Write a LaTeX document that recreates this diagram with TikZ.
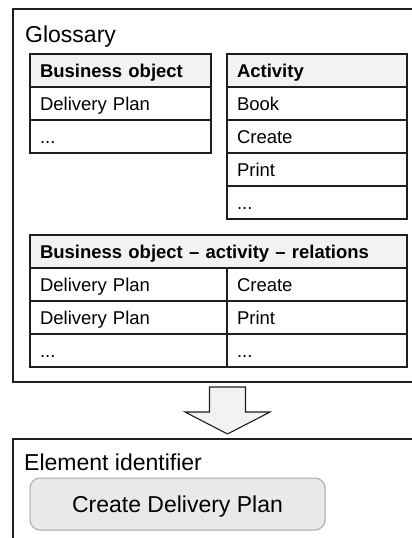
\documentclass[tikz,border=0pt]{standalone}
\usepackage{fontspec}
\setmainfont{Liberation Sans}
\usetikzlibrary{positioning,calc}

\definecolor{linecol}{RGB}{30,30,30}
\definecolor{headfill}{RGB}{242,242,242}
\definecolor{btnfill}{RGB}{233,233,233}
\definecolor{btnline}{RGB}{168,168,168}

\newcommand\tabfont{\fontsize{18.5}{22}\selectfont}
\newcommand\titlefont{\fontsize{23}{27}\selectfont}

\tikzset{
	cell/.style={draw=linecol, line width=1.1pt, outer sep=0pt, inner xsep=10pt, inner ysep=0pt,
		minimum height=33pt, text width=#1, text height=14pt, text depth=0pt, align=left, font=\tabfont},
	head/.style={cell=#1, fill=headfill, font=\tabfont\bfseries},
	frame/.style={draw=linecol, line width=1.1pt, outer sep=0pt, inner sep=0pt, anchor=north west},
	title/.style={inner sep=0pt, anchor=base west, font=\titlefont},
	blockarrow/.style={draw=linecol, line width=1.1pt, fill=headfill, line join=miter},
	action/.style={draw=btnline, line width=1pt, fill=btnfill, rounded corners=10pt, minimum width=295pt,
		minimum height=52pt, text height=16.5pt, text depth=0pt, font=\titlefont}
}

\begin{document}
\begin{tikzpicture}[x=1pt, y=-1pt]
	\useasboundingbox (0,0) rectangle (412,538);
	\clip (0,0) rectangle (412,538);
	\fill[white] (0,0) rectangle (412,538);

	\node[frame, minimum width=460pt, minimum height=373pt] (glossary) at (13,9) {};
	\node[title] (gtitle) at (25,42) {Glossary};

	\node[head=161pt, anchor=north west] (bo) at (30,54) {Business object};
	\node[cell=161pt, below=0pt of bo] (bo1) {Delivery Plan};
	\node[cell=161pt, below=0pt of bo1] (bo2) {...};

	\node[head=160pt, anchor=north west] (act) at (227,54) {Activity};
	\node[cell=160pt, below=0pt of act] (act1) {Book};
	\node[cell=160pt, below=0pt of act1] (act2) {Create};
	\node[cell=160pt, below=0pt of act2] (act3) {Print};
	\node[cell=160pt, below=0pt of act3] (act4) {...};

	\node[head=357pt, anchor=north west] (rel) at (30,235) {Business object -- activity -- relations};
	\node[cell=177pt, anchor=north west] (rel1a) at (rel.south west) {Delivery Plan};
	\node[cell=160pt, anchor=north west] (rel1b) at (rel1a.north east) {Create};
	\node[cell=177pt, anchor=north west] (rel2a) at (rel1a.south west) {Delivery Plan};
	\node[cell=160pt, anchor=north west] (rel2b) at (rel2a.north east) {Print};
	\node[cell=177pt, anchor=north west] (rel3a) at (rel2a.south west) {...};
	\node[cell=160pt, anchor=north west] (rel3b) at (rel3a.north east) {...};

	\node[frame, minimum width=460pt, minimum height=140pt] (element) at (13,439) {};
	\node[title] (etitle) at (24,470) {Element identifier};
	\node[action] (plan) at (177.5,504) {Create Delivery Plan};

	% block arrow between the two frames
	\coordinate (src) at ($(glossary.south west)+(214.5,5)$);
	\coordinate (dst) at ($(element.north west)+(214.5,-5)$);
	\draw[blockarrow] ($(src)+(-18,0)$) -- ($(src)+(18,0)$) -- ($(dst)+(18,-22)$) -- ($(dst)+(42.5,-22)$)
		-- (dst) -- ($(dst)+(-42.5,-22)$) -- ($(dst)+(-18,-22)$) -- cycle;
\end{tikzpicture}
\end{document}
